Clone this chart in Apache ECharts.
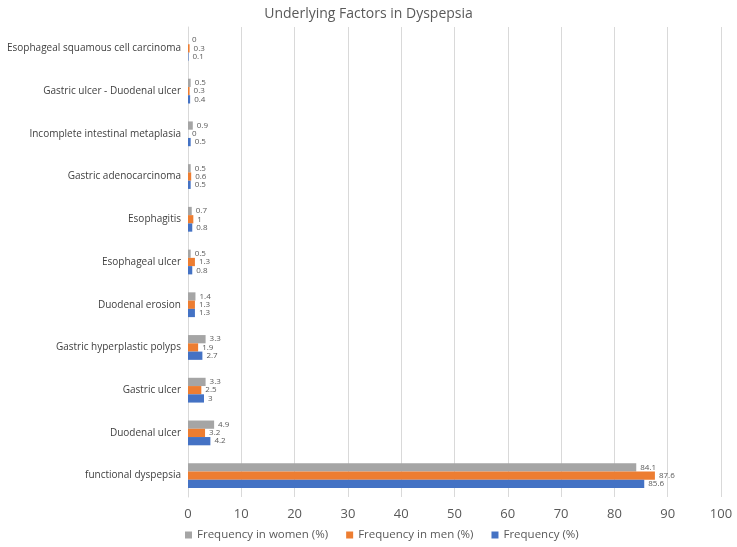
<!DOCTYPE html>
<html>
<head>
<meta charset="utf-8">
<script src="https://cdn.jsdelivr.net/npm/echarts@6/dist/echarts.min.js"></script>
<style>
  html, body { margin: 0; padding: 0; background: #fff; }
  #chart { width: 737px; height: 547px; }
</style>
</head>
<body>
<div id="chart"></div>
<script>
// categories, bottom to top (as ECharts draws a category y axis)
const categories = [
  'functional dyspepsia',
  'Duodenal ulcer',
  'Gastric ulcer',
  'Gastric hyperplastic polyps',
  'Duodenal erosion',
  'Esophageal ulcer',
  'Esophagitis',
  'Gastric adenocarcinoma',
  'Incomplete intestinal metaplasia',
  'Gastric ulcer - Duodenal ulcer',
  'Esophageal squamous cell carcinoma'
];
const frequency = [85.6, 4.2, 3, 2.7, 1.3, 0.8, 0.8, 0.5, 0.5, 0.4, 0.1];
const freqMen = [87.6, 3.2, 2.5, 1.9, 1.3, 1.3, 1, 0.6, 0, 0.3, 0.3];
const freqWomen = [84.1, 4.9, 3.3, 3.3, 1.4, 0.5, 0.7, 0.5, 0.9, 0.5, 0];

const chart = echarts.init(document.getElementById('chart'));

const labelStyle = {
  show: true,
  position: 'right',
  distance: 4,
  fontSize: 8,
  color: '#595959',
  fontFamily: 'Open Sans'
};

function makeSeries(name, data, color) {
  return {
    name: name,
    type: 'bar',
    data: data,
    barGap: '0%',
    barCategoryGap: '42%',
    itemStyle: { color: color },
    label: labelStyle
  };
}

chart.setOption({
  animation: false,
  textStyle: { fontFamily: 'Open Sans' },
  title: {
    text: 'Underlying Factors in Dyspepsia',
    left: 'center',
    top: 2,
    textStyle: { fontSize: 14, fontWeight: 'normal', color: '#595959', fontFamily: 'Open Sans' }
  },
  legend: {
    data: ['Frequency in women (%)', 'Frequency in men (%)', 'Frequency (%)'],
    bottom: 1,
    left: 180,
    itemWidth: 7,
    itemHeight: 7,
    itemGap: 18,
    icon: 'rect',
    textStyle: { fontSize: 11.5, color: '#595959' }
  },
  grid: {
    left: 188,
    right: 16,
    top: 27,
    bottom: 50,
    containLabel: false,
    outerBoundsMode: 'none'
  },
  xAxis: {
    type: 'value',
    min: 0,
    max: 100,
    interval: 10,
    axisLine: { show: false },
    axisTick: { show: false },
    axisLabel: { fontSize: 13, color: '#595959', margin: 11 },
    splitLine: { lineStyle: { color: '#d9d9d9' } }
  },
  yAxis: {
    type: 'category',
    data: categories,
    axisLine: { show: true, lineStyle: { color: '#d9d9d9' } },
    axisTick: { show: false },
    axisLabel: { fontSize: 10, color: '#404040', margin: 7 }
  },
  series: [
    makeSeries('Frequency in women (%)', freqWomen, '#A5A5A5'),
    makeSeries('Frequency in men (%)', freqMen, '#ED7D31'),
    makeSeries('Frequency (%)', frequency, '#4472C4')
  ]
});
</script>
</body>
</html>
